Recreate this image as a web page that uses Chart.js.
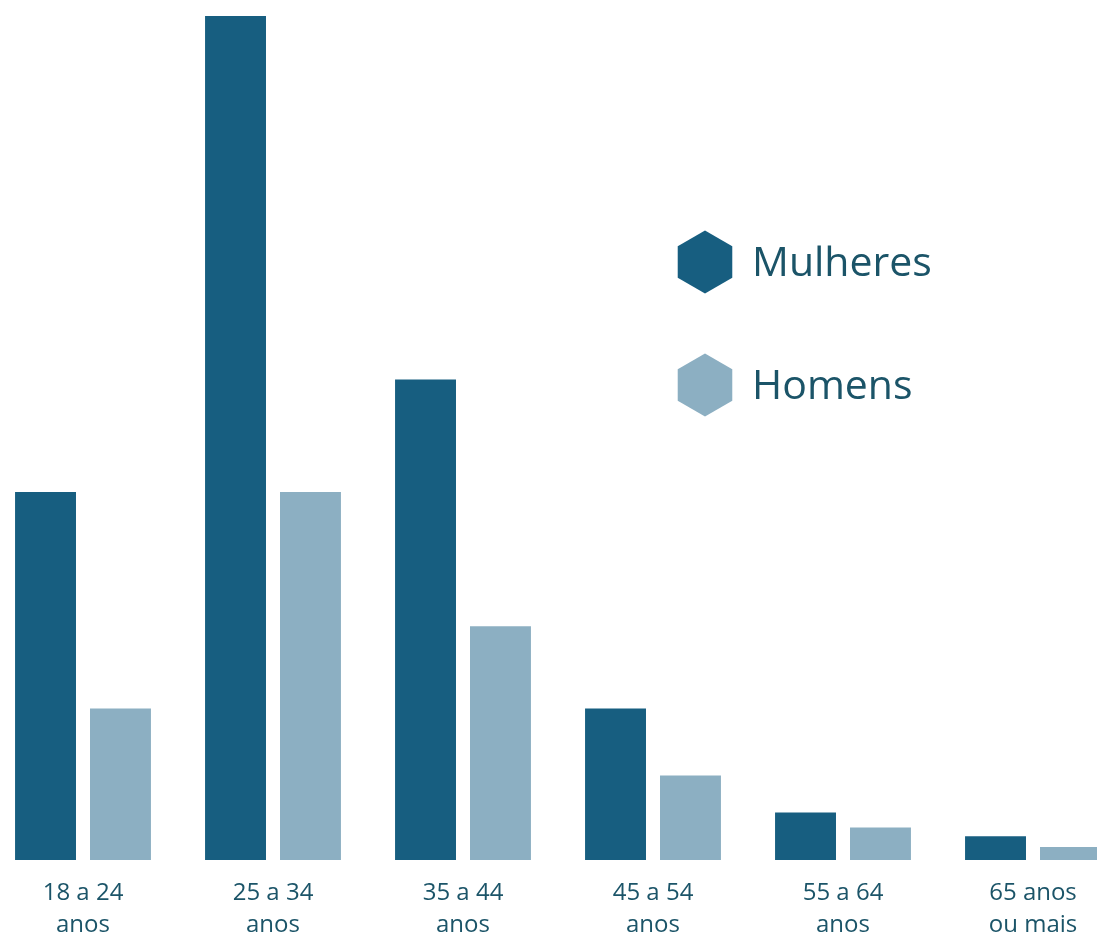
<!DOCTYPE html>
<html lang="pt-BR"><head><meta charset="UTF-8">
<title>Mulheres e Homens por faixa etária</title>
<script src="https://cdn.jsdelivr.net/npm/chart.js@4/dist/chart.umd.min.js"></script>
<style>
*{margin:0;padding:0;box-sizing:border-box}
html,body{width:1097px;height:937px;overflow:hidden;background:#fff}
#wrap{position:absolute;left:-12px;top:0;width:1140px;height:937px}
</style></head><body>
<div id="wrap"><canvas id="c"></canvas></div>
<script>
const faixas = [['18 a 24', 'anos'], ['25 a 34', 'anos'], ['35 a 44', 'anos'], ['45 a 54', 'anos'], ['55 a 64', 'anos'], ['65 anos', 'ou mais']];
const mulheres = [17, 39, 22.2, 7, 2.2, 1.1];
const homens = [7, 17, 10.8, 3.9, 1.5, 0.6];
const corMulheres = '#175e80', corHomens = '#8cafc2', corTexto = '#1b5468';
const fonte = '"Open Sans", "Noto Sans", sans-serif';

function hexagono(ctx, cx, cy, r) {
  ctx.beginPath();
  for (let i = 0; i < 6; i++) {
    const a = Math.PI / 3 * i - Math.PI / 2;
    const x = cx + r * Math.cos(a), y = cy + r * Math.sin(a);
    i ? ctx.lineTo(x, y) : ctx.moveTo(x, y);
  }
  ctx.closePath();
  ctx.fill();
}

// legenda com hexágonos
const legendaHex = {
  id: 'legendaHex',
  afterDraw(chart) {
    const ctx = chart.ctx;
    const pos = [{ x: 717, y: 262 }, { x: 717, y: 385 }];
    ctx.save();
    chart.data.datasets.forEach((ds, i) => {
      ctx.fillStyle = ds.backgroundColor;
      hexagono(ctx, pos[i].x, pos[i].y, 31.5);
      ctx.fillStyle = corTexto;
      ctx.font = '41px ' + fonte;
      ctx.textBaseline = 'middle';
      ctx.textAlign = 'left';
      ctx.fillText(ds.label, pos[i].x + 47, pos[i].y + 2);
    });
    ctx.restore();
  }
};

new Chart(document.getElementById('c'), {
  type: 'bar',
  data: {
    labels: faixas,
    datasets: [
      { label: 'Mulheres', data: mulheres, backgroundColor: corMulheres },
      { label: 'Homens', data: homens, backgroundColor: corHomens }
    ]
  },
  options: {
    responsive: true,
    maintainAspectRatio: false,
    animation: false,
    layout: { padding: { top: 16, left: 0, right: 0, bottom: 0 } },
    datasets: { bar: { categoryPercentage: 0.789, barPercentage: 0.813 } },
    plugins: { legend: { display: false }, tooltip: { enabled: false } },
    scales: {
      x: {
        grid: { display: false },
        border: { display: false },
        afterFit(scale) { scale.height = 77; },
        ticks: { color: corTexto, padding: 10, font: { family: fonte, size: 24, lineHeight: 1.3 } }
      },
      y: { display: false, min: 0, max: 39 }
    }
  },
  plugins: [legendaHex]
});
</script>
</body></html>
